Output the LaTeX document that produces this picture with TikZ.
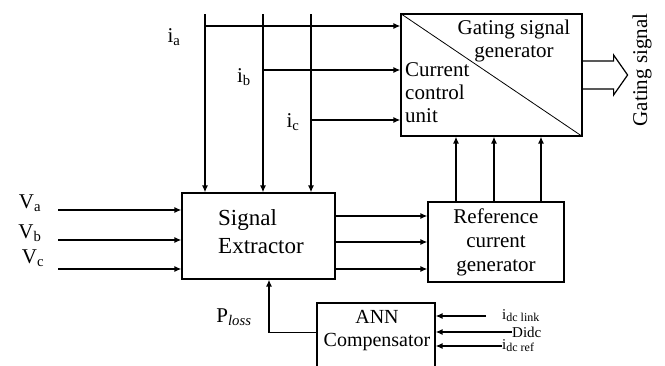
\documentclass[tikz,border=0pt]{standalone}
\usepackage{fontspec}
\setmainfont{Liberation Serif}
\usetikzlibrary{arrows.meta,calc}

\newcommand{\dcsub}[1]{\raisebox{-2pt}{\fontsize{12}{12}\selectfont #1}}

\begin{document}
\begin{tikzpicture}[x=1pt,y=-1pt,
    blk/.style={draw, line width=1.2pt, inner sep=0pt, align=center, font=\fontsize{21}{24}\selectfont},
    sig/.style={line width=1.3pt, -{Latex[length=7pt,width=6pt]}},
    lbl/.style={inner sep=0pt, font=\fontsize{21}{23}\selectfont},
    small/.style={inner sep=0pt, font=\fontsize{15}{15}\selectfont}
  ]
  \useasboundingbox (0,0) rectangle (665,365);
  \clip (0,0) rectangle (665,365);

  % blocks
  \node[blk, minimum width=181pt, minimum height=122pt] (gsg) at (491.5,75) {};
  \draw[line width=0.8pt] (gsg.north west) -- (gsg.south east);
  \node[lbl, align=center] (gsgtxt) at (514,41) {Gating signal\\generator};
  \node[lbl, align=left, anchor=north west] (ccu) at (405,62) {Current\\control\\unit};

  \node[blk, minimum width=153pt, minimum height=86pt] (se) at (258.5,236) {};
  \node[lbl, align=left, anchor=west, font=\fontsize{23}{28}\selectfont] (setxt) at (218,232) {Signal\\Extractor};

  \node[blk, minimum width=136pt, minimum height=80pt] (ref) at (496,242) {Reference\\current\\generator};

  \node[blk, minimum width=118pt, minimum height=90pt] (ann) at (376,348) {};
  \node[lbl, align=center, font=\fontsize{20}{23}\selectfont] (anntxt) at (377,331) {ANN\\Compensator};

  % phase currents
  \coordinate (ta) at (205,14);
  \coordinate (tb) at (263,14);
  \coordinate (tc) at (311,14);
  \draw[sig] (ta) -- (ta |- se.north);
  \draw[sig] (tb) -- (tb |- se.north);
  \draw[sig] (tc) -- (tc |- se.north);
  \coordinate (ja) at (205,26);
  \coordinate (jb) at (263,70);
  \coordinate (jc) at (311,120);
  \draw[sig] (ja) -- (ja -| gsg.west);
  \draw[sig] (jb) -- (jb -| gsg.west);
  \draw[sig] (jc) -- (jc -| gsg.west);
  \node[lbl] (ia) at (174,37) {i\textsubscript{a}};
  \node[lbl] (ib) at (244,77) {i\textsubscript{b}};
  \node[lbl] (ic) at (293,122) {i\textsubscript{c}};

  % supply voltages
  \coordinate (va) at (58,210);
  \coordinate (vb) at (58,240);
  \coordinate (vc) at (58,269);
  \draw[sig] (va) -- (va -| se.west);
  \draw[sig] (vb) -- (vb -| se.west);
  \draw[sig] (vc) -- (vc -| se.west);
  \node[lbl] (Va) at (30,203) {V\textsubscript{a}};
  \node[lbl] (Vb) at (30,233) {V\textsubscript{b}};
  \node[lbl] (Vc) at (33,258) {V\textsubscript{c}};

  % extractor to reference
  \coordinate (ea) at ($(se.east)+(0,-20)$);
  \coordinate (eb) at ($(se.east)+(0,6)$);
  \coordinate (ec) at ($(se.east)+(0,33)$);
  \draw[sig] (ea) -- (ea -| ref.west);
  \draw[sig] (eb) -- (eb -| ref.west);
  \draw[sig] (ec) -- (ec -| ref.west);

  % reference to gating
  \coordinate (ra) at ($(ref.north)+(-40,0)$);
  \coordinate (rb) at ($(ref.north)+(-2,0)$);
  \coordinate (rc) at ($(ref.north)+(45,0)$);
  \draw[sig] (ra) -- (ra |- gsg.south);
  \draw[sig] (rb) -- (rb |- gsg.south);
  \draw[sig] (rc) -- (rc |- gsg.south);

  % loss feedback
  \coordinate (pl) at ($(ann.north west)+(0,30)$);
  \coordinate (pe) at ($(se.south)+(10.5,0)$);
  \draw[sig] (pl) -| (pe);
  \node[lbl] (ploss) at (234,317) {P\textsubscript{\itshape loss}};

  % dc link inputs
  \node[small, anchor=west] (idl) at (502,316) {i\dcsub{dc link}};
  \node[small, anchor=west] (didc) at (512,332) {Didc};
  \node[small, anchor=west] (idr) at (502,346) {i\dcsub{dc ref}};
  \draw[sig, shorten <=16pt] (idl.west) -- (idl.west -| ann.east);
  \draw[sig] (didc.west) -- (didc.west -| ann.east);
  \draw[sig] (idr.west) -- (idr.west -| ann.east);

  % gating output
  \draw[line width=1.2pt] ($(gsg.east)+(0,-14)$) -- ++(31,0) -- ++(0,-6) -- ++(14,20)
    -- ++(-14,20) -- ++(0,-6) -- ($(gsg.east)+(0,14)$);
  \node[lbl, rotate=90] (gout) at (642,70) {Gating signal};
\end{tikzpicture}
\end{document}
